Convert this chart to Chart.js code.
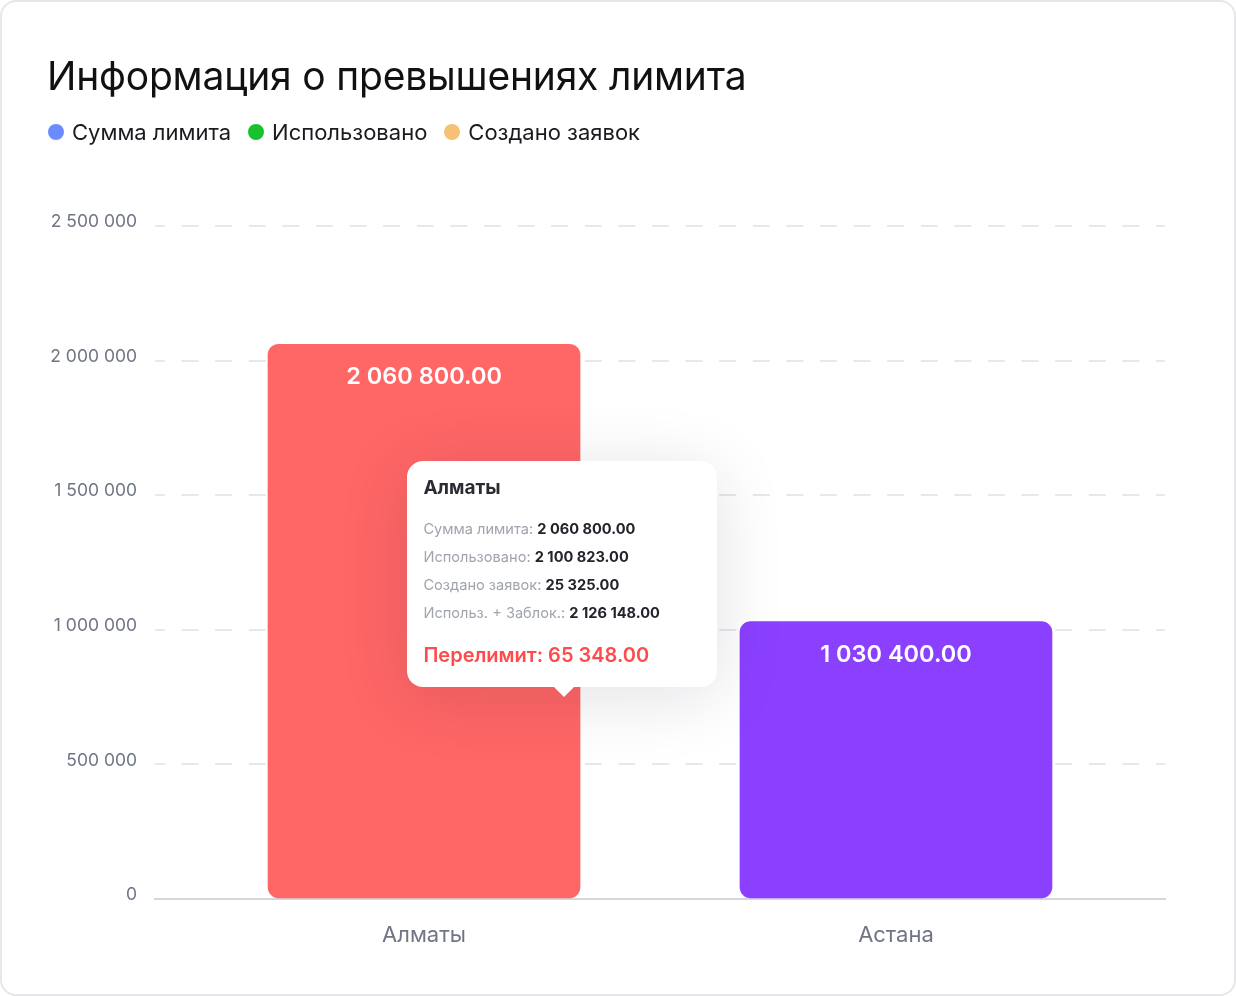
<!DOCTYPE html>
<html lang="ru">
<head>
<meta charset="utf-8">
<title>Информация о превышениях лимита</title>
<script src="https://cdn.jsdelivr.net/npm/chart.js@4.4.1/dist/chart.umd.min.js"></script>
<style>
    html, body { margin: 0; padding: 0; background: #fff; }
    body { width: 1236px; height: 996px; position: relative; overflow: hidden; font-family: 'Inter', 'Noto Sans', sans-serif; }
    .card { position: absolute; left: 0; top: 0; width: 1236px; height: 996px; box-sizing: border-box; border: 2px solid #e7e7e9; border-radius: 16px; }
    #chart { position: absolute; left: 0; top: 0; }
    .title { position: absolute; left: 47px; top: 52px; margin: 0; font-size: 39px; font-weight: 400; line-height: 48px; color: #111114; letter-spacing: -0.2px; white-space: nowrap; }
    .legend { position: absolute; left: 48px; top: 118px; display: flex; align-items: center; font-size: 22px; line-height: 28px; color: #1a1a1f; }
    .legend span.item { display: flex; align-items: center; margin-right: 17px; }
    .legend span.dot { width: 16px; height: 16px; border-radius: 50%; margin-right: 8px; }
    #tip { position: absolute; width: 310px; box-sizing: border-box; padding: 14px 16px 20px; background: #fff; border-radius: 16px;
           box-shadow: 0 10px 70px rgba(20, 20, 40, 0.12); opacity: 0; pointer-events: none; }
    #tip:after { content: ''; position: absolute; left: 147px; bottom: -10px; border-left: 10px solid transparent; border-right: 10px solid transparent; border-top: 10px solid #fff; }
    #tip .t { font-size: 19px; font-weight: 700; line-height: 26px; color: #2b2b33; margin-bottom: 14px; }
    #tip .r { font-size: 14.6px; line-height: 28px; color: #a0a4ad; white-space: nowrap; }
    #tip .r b { color: #22242b; font-weight: 700; }
    #tip .over { margin-top: 16px; font-size: 20px; font-weight: 600; line-height: 24px; color: #ff4b4b; }
</style>
</head>
<body>
<div class="card"></div>
<canvas id="chart" width="1236" height="996"></canvas>
<h1 class="title">Информация о превышениях лимита</h1>
<div class="legend" id="legend"></div>
<div id="tip"></div>

<script>
// Data
const cities = ['Алматы', 'Астана'];
const limitSum = [2060800, 1030400];     // Сумма лимита (bars)
const usedSum = [2100823, null];         // Использовано
const requestsSum = [25325, null];       // Создано заявок
const seriesNames = ['Сумма лимита', 'Использовано', 'Создано заявок'];
const seriesColors = ['#6b8cff', '#17c22e', '#f6c177'];
const barColors = ['#ff6666', '#8b40ff'];
const yTicks = [0, 500000, 1000000, 1500000, 2000000, 2500000];

// layout helpers
const X_MIN = -0.57, X_MAX = 1.57;
const TIP_VALUE = 750000;

function groupNum(v) {
    return String(v).replace(/\B(?=(\d{3})+(?!\d))/g, ' ');
}
function money(v) {
    const parts = v.toFixed(2).split('.');
    return groupNum(parts[0]) + '.' + parts[1];
}

// legend
const legendEl = document.getElementById('legend');
seriesNames.forEach((name, i) => {
    const item = document.createElement('span');
    item.className = 'item';
    item.innerHTML = '<span class="dot" style="background:' + seriesColors[i] + '"></span>' + name;
    legendEl.appendChild(item);
});

// value labels inside the bars
const barLabels = {
    id: 'barLabels',
    afterDatasetsDraw(chart) {
        const ctx = chart.ctx;
        const meta = chart.getDatasetMeta(0);
        ctx.save();
        ctx.fillStyle = '#fff';
        ctx.font = '600 23.5px Inter, sans-serif';
        ctx.textAlign = 'center';
        ctx.textBaseline = 'middle';
        meta.data.forEach((bar, i) => {
            ctx.fillText(money(limitSum[i]), bar.x, bar.y + 33);
        });
        ctx.restore();
    }
};

Chart.Tooltip.positioners.barAnchor = function(elements) {
    if (!elements.length) return false;
    const el = elements[0].element;
    return {
        x: el.x + el.width * 0.45,
        y: this.chart.scales.y.getPixelForValue(TIP_VALUE)
    };
};

function externalTip(context) {
    const tip = document.getElementById('tip');
    const tooltip = context.tooltip;
    if (tooltip.opacity === 0 || !tooltip.dataPoints) {
        tip.style.opacity = 0;
        return;
    }
    const i = tooltip.dataPoints[0].dataIndex;
    const total = usedSum[i] + requestsSum[i];
    tip.innerHTML =
        '<div class="t">' + cities[i] + '</div>' +
        '<div class="r">' + seriesNames[0] + ': <b>' + money(limitSum[i]) + '</b></div>' +
        '<div class="r">' + seriesNames[1] + ': <b>' + money(usedSum[i]) + '</b></div>' +
        '<div class="r">' + seriesNames[2] + ': <b>' + money(requestsSum[i]) + '</b></div>' +
        '<div class="r">Использ. + Заблок.: <b>' + money(total) + '</b></div>' +
        '<div class="over">Перелимит: ' + money(total - limitSum[i]) + '</div>';
    tip.style.opacity = 1;
    tip.style.left = (tooltip.caretX - 157) + 'px';
    tip.style.top = (tooltip.caretY - tip.offsetHeight - 10) + 'px';
}

const chart = new Chart(document.getElementById('chart'), {
    type: 'bar',
    data: {
        datasets: [{
            label: seriesNames[0],
            data: limitSum.map((v, i) => ({ x: i, y: v })),
            backgroundColor: barColors,
            hoverBackgroundColor: barColors,
            borderRadius: 11,
            borderSkipped: false,
            barThickness: 312
        }]
    },
    options: {
        responsive: false,
        animation: false,
        events: [],
        layout: { padding: { top: 226, right: 71, bottom: 0, left: 0 } },
        plugins: {
            legend: { display: false },
            title: { display: false },
            tooltip: {
                enabled: false,
                position: 'barAnchor',
                external: externalTip
            }
        },
        scales: {
            x: {
                type: 'linear',
                offset: false,
                min: X_MIN,
                max: X_MAX,
                afterBuildTicks: (scale) => { scale.ticks = cities.map((c, i) => ({ value: i })); },
                afterFit: (scale) => { scale.height = 97; },
                grid: { display: false, drawTicks: false },
                border: { display: true, color: '#d3d6dc', width: 2 },
                ticks: {
                    autoSkip: false,
                    maxRotation: 0,
                    padding: 23,
                    color: '#6f7584',
                    font: { family: 'Inter', size: 22 },
                    callback: (v) => cities[v]
                }
            },
            y: {
                min: 0,
                max: yTicks[yTicks.length - 1],
                afterBuildTicks: (scale) => { scale.ticks = yTicks.map(v => ({ value: v })); },
                afterFit: (scale) => { scale.width = 155; },
                grid: {
                    drawTicks: false,
                    lineWidth: 2,
                    color: (ctx) => ctx.tick && ctx.tick.value === 0 ? 'rgba(0,0,0,0)' : '#e7e8ec'
                },
                border: { display: false, dash: [17, 16.6], dashOffset: 7 },
                ticks: {
                    padding: 18,
                    labelOffset: -4,
                    color: '#6f7584',
                    font: { family: 'Inter', size: 17.5 },
                    callback: (v) => groupNum(v)
                }
            }
        }
    },
    plugins: [barLabels]
});

chart.tooltip.setActiveElements([{ datasetIndex: 0, index: 0 }], { x: 0, y: 0 });
chart.draw();
</script>
</body>
</html>
